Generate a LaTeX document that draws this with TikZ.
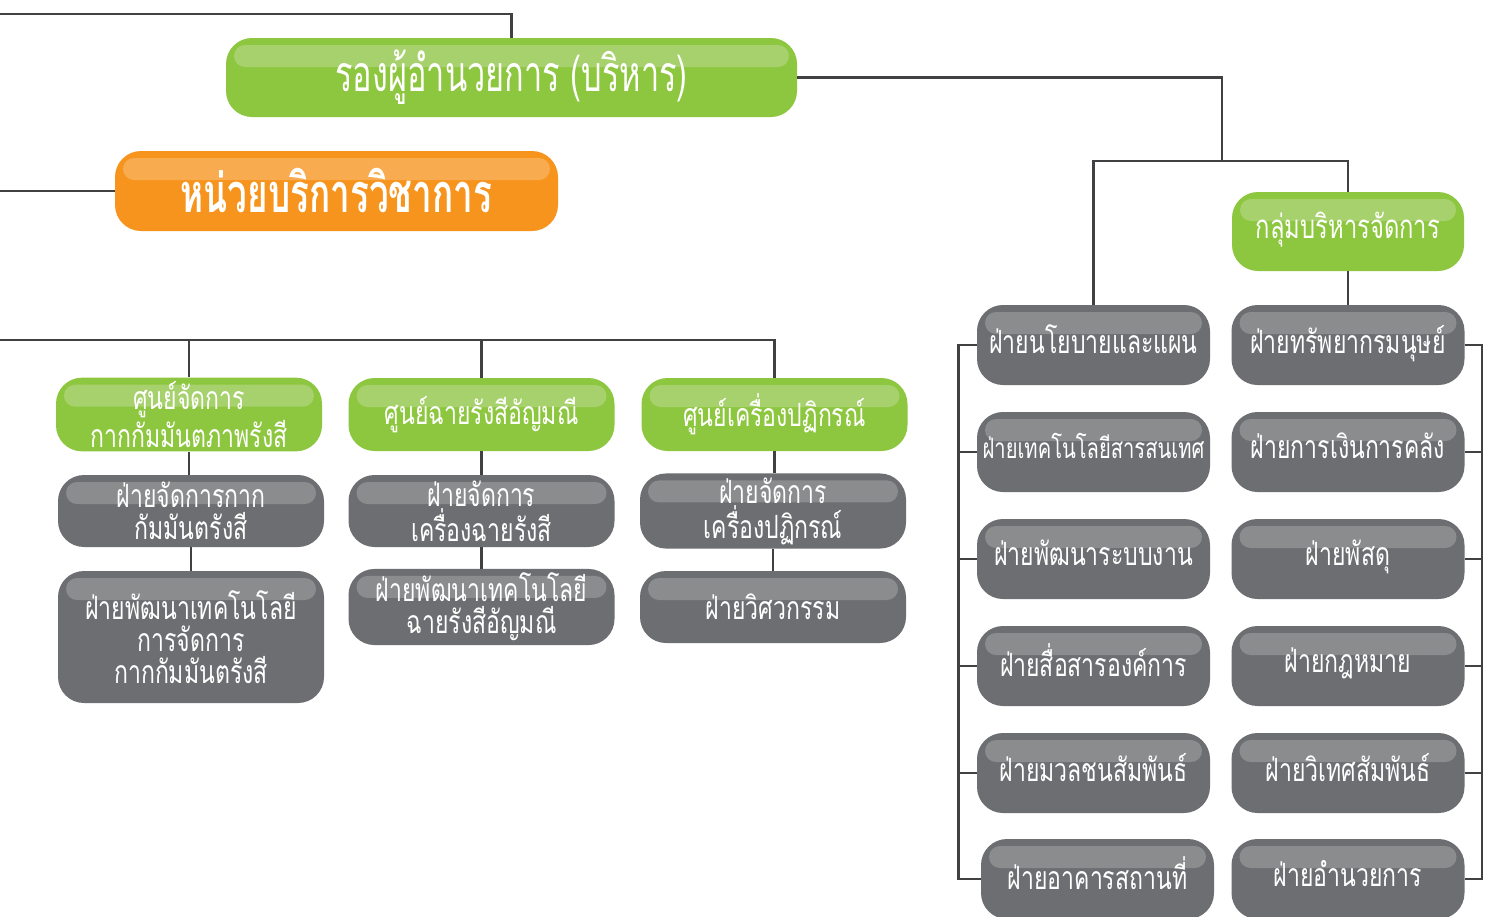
\documentclass[tikz,border=0pt]{standalone}
\usepackage{fontspec}
\usepackage{xcolor}
\usetikzlibrary{calc}
\newfontfamily\thaifont[Script=Thai,FakeStretch=0.72]{Loma}
\newfontfamily\thaititle[Script=Thai,FakeStretch=0.65]{Loma}
\definecolor{leafgreen}{HTML}{8DC63F}
\definecolor{leafshine}{HTML}{A7D16C}
\definecolor{amber}{HTML}{F7941D}
\definecolor{ambershine}{HTML}{F9AB50}
\definecolor{slate}{HTML}{6D6E71}
\definecolor{slateshine}{HTML}{8B8C8E}
\definecolor{wire}{HTML}{414042}
\tikzset{
  glossy/.style={rounded corners=13pt,align=center,inner sep=2pt,text=white,
    font=\thaifont\fontsize{16}{16}\selectfont,
    path picture={\fill[#1,rounded corners=5.5pt]
      ([xshift=4pt,yshift=-3.5pt]path picture bounding box.north west) rectangle
      ([xshift=-4pt,yshift=-14.5pt]path picture bounding box.north east);}},
  greenbox/.style={glossy=leafshine,fill=leafgreen},
  orangebox/.style={glossy=ambershine,fill=amber},
  greybox/.style={glossy=slateshine,fill=slate},
  centre/.style={greenbox,minimum width=133pt,minimum height=36.5pt},
  unit/.style={greybox,minimum width=133pt,minimum height=36pt},
  dept/.style={greybox,minimum width=116.5pt,minimum height=40pt,inner xsep=0pt,
               text depth=6pt,font=\thaifont\fontsize{16}{17}\selectfont},
  link/.style={draw=wire,line width=1.25pt}
}

\begin{document}
\begin{tikzpicture}[x=0.5pt,y=-0.5pt]
  \fill[white] (0,0) rectangle (1488,916);
  \useasboundingbox (0,0) rectangle (1488,916);
  \clip (0,0) rectangle (1488,916);

  % top level
  \node[greenbox,minimum width=285.5pt,minimum height=39.5pt,text depth=7pt,
        font=\thaititle\fontsize{25}{27}\selectfont] (vpadmin) at (511.5,77.5)
    {รองผู้อำนวยการ (บริหาร)};
  \node[orangebox,minimum width=221.5pt,minimum height=40pt,
        font=\thaititle\bfseries\fontsize{27}{29}\selectfont] (acad) at (336.5,191)
    {หน่วยบริการวิชาการ};
  \node[greenbox,minimum width=116pt,minimum height=39.5pt,text depth=6pt,
        font=\thaifont\fontsize{16.5}{18}\selectfont] (mgmt) at (1348,231.5)
    {กลุ่มบริหารจัดการ};

  % centres of the academic unit
  \node[centre] (waste) at (189,414.5) {ศูนย์จัดการ\\กากกัมมันตภาพรังสี};
  \node[centre] (gem) at (481.5,414.5) {ศูนย์ฉายรังสีอัญมณี};
  \node[centre] (reactor) at (774.5,414.5) {ศูนย์เครื่องปฏิกรณ์};

  \node[unit] (wasteops) at (191,511) {ฝ่ายจัดการกาก\\กัมมันตรังสี};
  \node[unit,minimum height=66pt] (wastedev) at (191,637)
    {ฝ่ายพัฒนาเทคโนโลยี\\การจัดการ\\กากกัมมันตรังสี};
  \node[unit] (gemops) at (481.5,511) {ฝ่ายจัดการ\\เครื่องฉายรังสี};
  \node[unit] (gemdev) at (481.5,607) {ฝ่ายพัฒนาเทคโนโลยี\\ฉายรังสีอัญมณี};
  \node[unit] (reactorops) at (773,511) {ฝ่ายจัดการ\\เครื่องปฏิกรณ์};
  \node[unit] (engineer) at (773,607) {ฝ่ายวิศวกรรม};

  % departments, left column
  \node[dept] (policy) at (1093.5,345) {ฝ่ายนโยบายและแผน};
  \node[dept,font=\thaifont\fontsize{14}{15}\selectfont] (ict) at (1093.5,452)
    {ฝ่ายเทคโนโลยีสารสนเทศ};
  \node[dept] (sysdev) at (1093.5,559) {ฝ่ายพัฒนาระบบงาน};
  \node[dept] (corpcom) at (1093.5,666) {ฝ่ายสื่อสารองค์การ};
  \node[dept] (pubrel) at (1093.5,773) {ฝ่ายมวลชนสัมพันธ์};
  \node[dept] (facil) at (1097.5,879) {ฝ่ายอาคารสถานที่};

  % departments, right column
  \node[dept] (hr) at (1348,345) {ฝ่ายทรัพยากรมนุษย์};
  \node[dept] (finance) at (1348,452) {ฝ่ายการเงินการคลัง};
  \node[dept] (supply) at (1348,559) {ฝ่ายพัสดุ};
  \node[dept] (legal) at (1348,666) {ฝ่ายกฎหมาย};
  \node[dept] (intrel) at (1348,773) {ฝ่ายวิเทศสัมพันธ์};
  \node[dept] (director) at (1348,879) {ฝ่ายอำนวยการ};

  \coordinate (topin) at (0,14);
  \coordinate (acadin) at (0,191);
  \coordinate (rowin) at (0,340);
  \coordinate (split) at (1222,161);

  \draw[link] (topin) -| (vpadmin.north);
  \draw[link] (acadin) -- (acad.west);
  \draw[link] (vpadmin.east) -| (split);
  \draw[link] (policy.north) |- (split) -| (mgmt.north);
  \draw[link] (mgmt.south) -- (hr.north);

  \draw[link] (rowin) -| (reactor.north);
  \draw[link] (waste.north) -- (waste.north |- rowin);
  \draw[link] (gem.north) -- (gem.north |- rowin);
  \draw[link] (waste.south) -- (waste.south |- wasteops.north);
  \draw[link] (wasteops.south) -- (wasteops.south |- wastedev.north);
  \draw[link] (gem.south) -- (gemops.north);
  \draw[link] (gemops.south) -- (gemdev.north);
  \draw[link] (reactor.south) -- (reactor.south |- reactorops.north);
  \draw[link] (reactorops.south) -- (engineer.north);

  % side rails
  \draw[link] (policy.west) -- ++(-18,0) |- (facil.west);
  \draw[link] (ict.west) -- ++(-18,0);
  \draw[link] (sysdev.west) -- ++(-18,0);
  \draw[link] (corpcom.west) -- ++(-18,0);
  \draw[link] (pubrel.west) -- ++(-18,0);
  \draw[link] (hr.east) -- ++(17,0) |- (director.east);
  \draw[link] (finance.east) -- ++(17,0);
  \draw[link] (supply.east) -- ++(17,0);
  \draw[link] (legal.east) -- ++(17,0);
  \draw[link] (intrel.east) -- ++(17,0);
\end{tikzpicture}
\end{document}
